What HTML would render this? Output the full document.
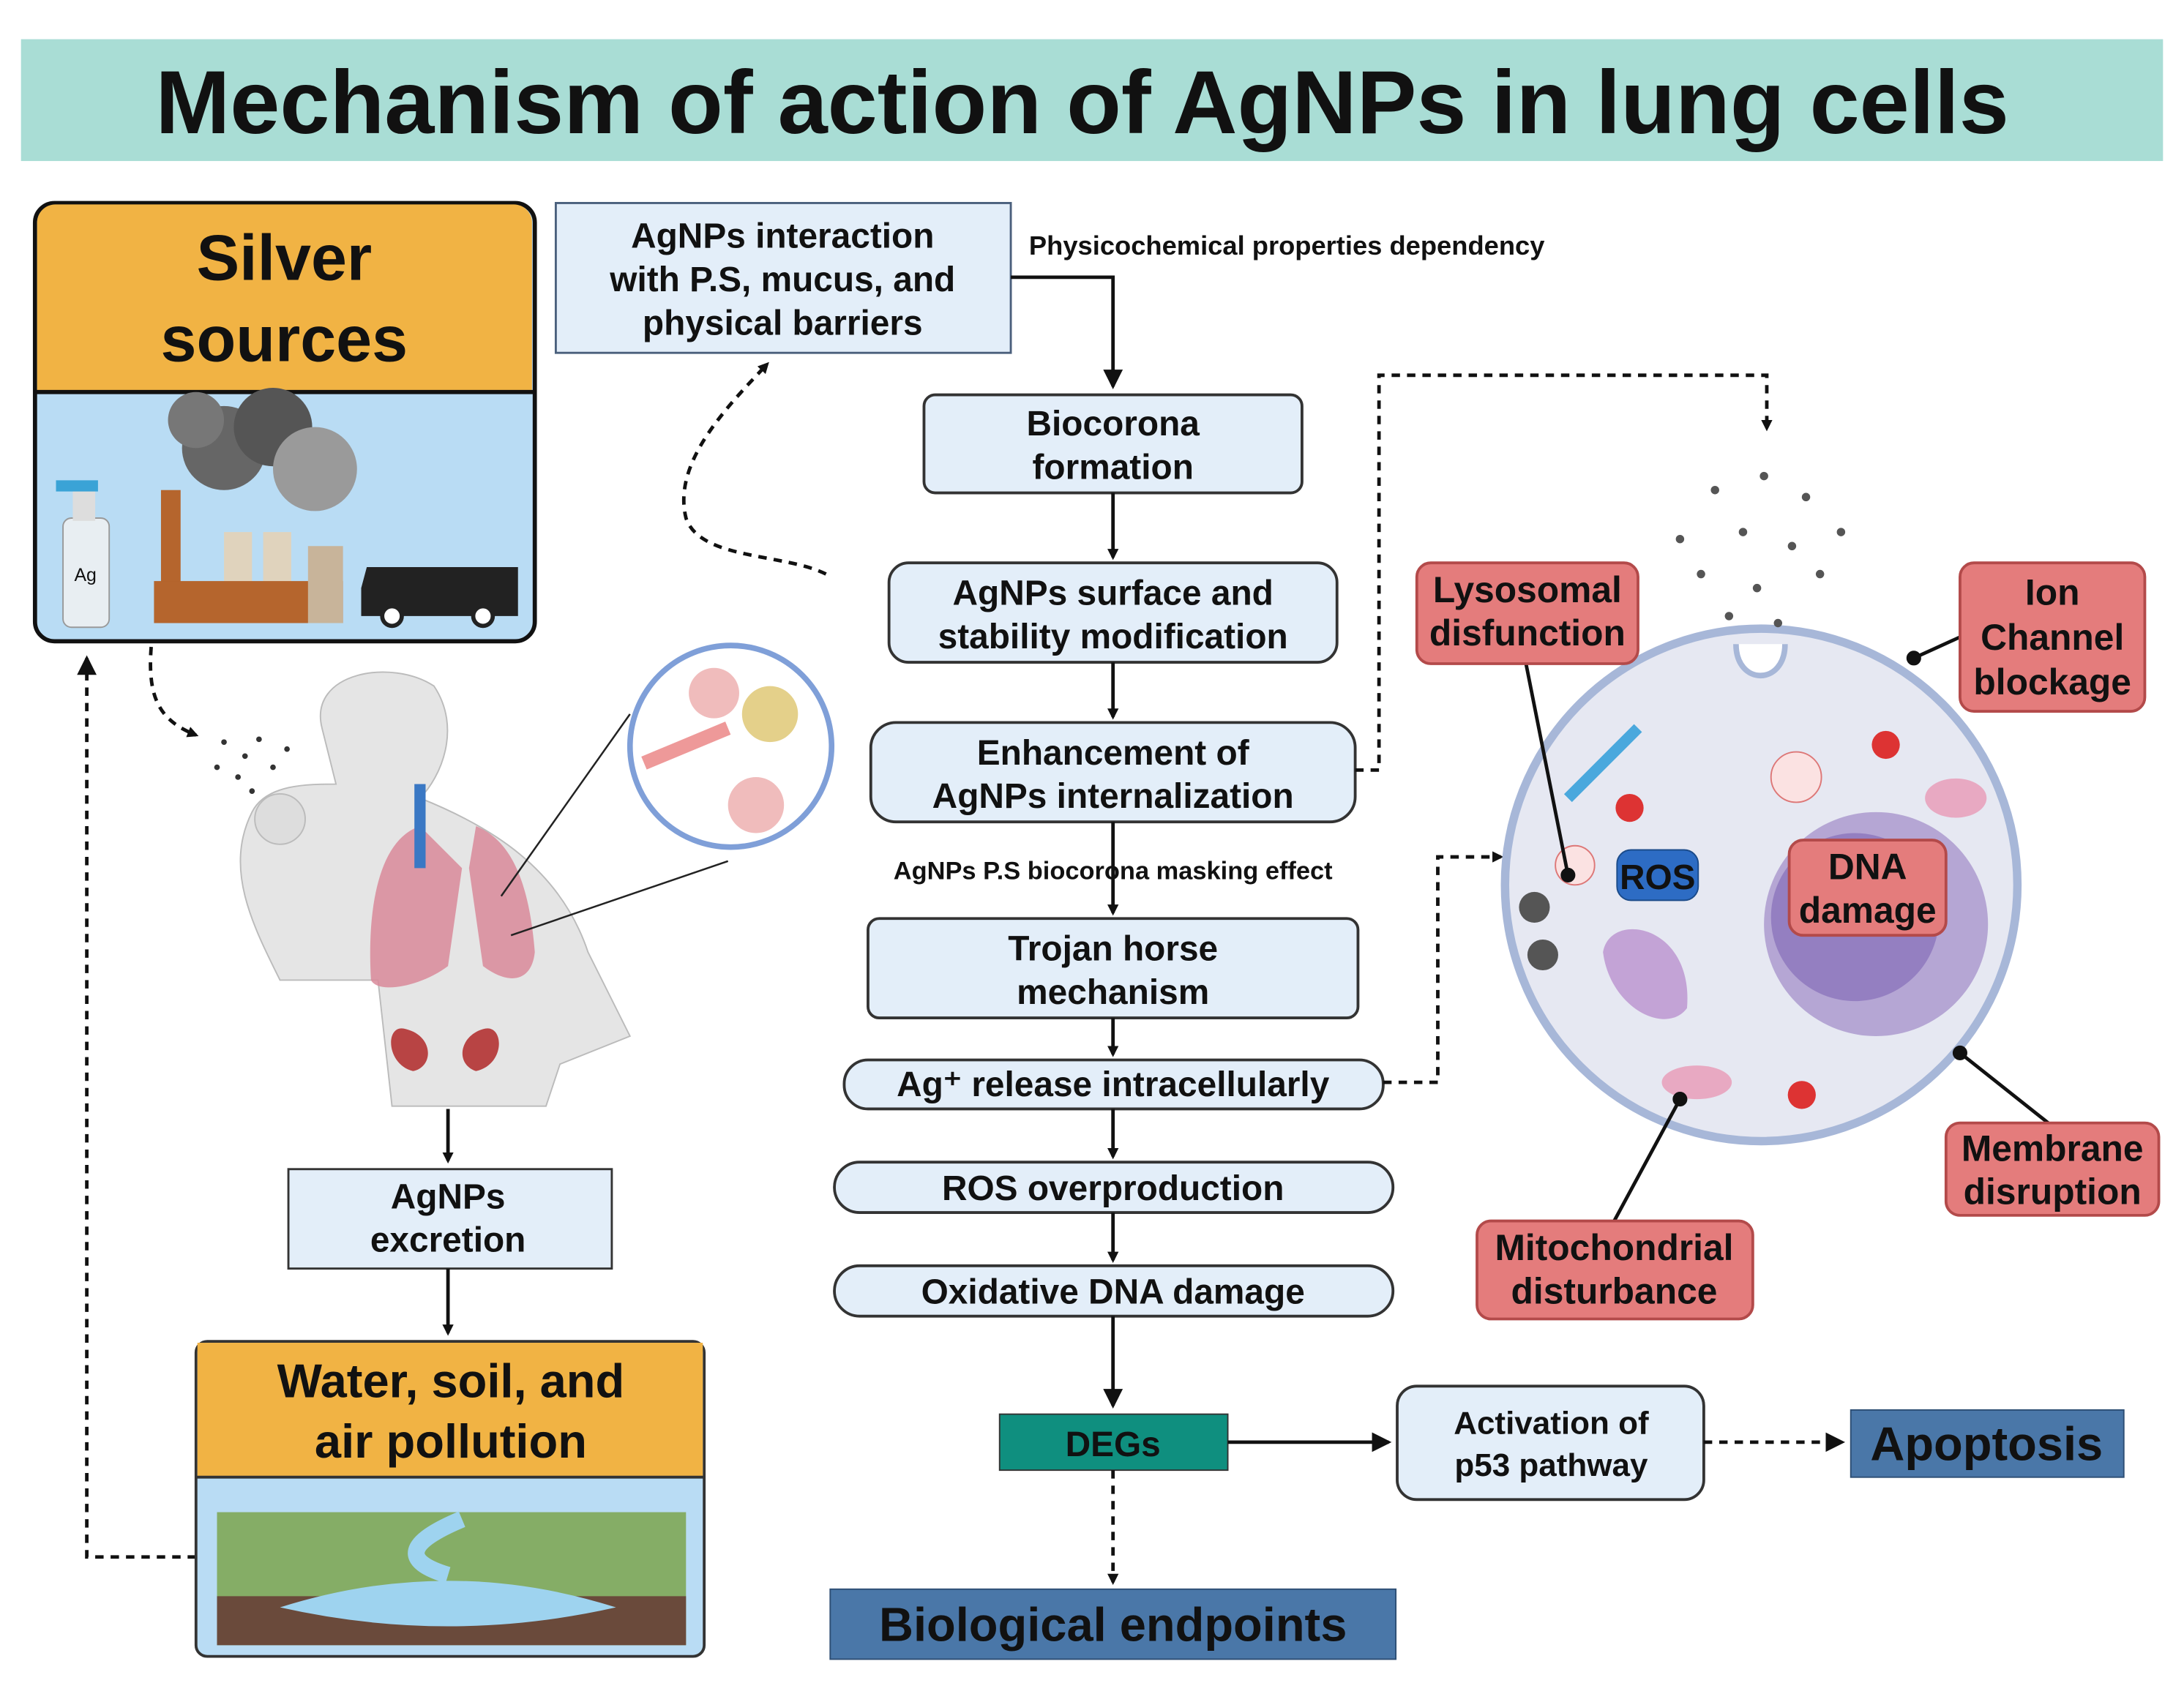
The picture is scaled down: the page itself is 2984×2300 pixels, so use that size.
<!DOCTYPE html>
<html><head><meta charset="utf-8"><style>
html,body{margin:0;padding:0;background:#fff}
svg{display:block}
text{font-family:"Liberation Sans",sans-serif;font-weight:bold;fill:#111}
</style></head><body>
<svg width="2984" height="2300" viewBox="0 0 1560 1202" preserveAspectRatio="none" xmlns="http://www.w3.org/2000/svg">
<defs>
<marker id="ah" markerWidth="8" markerHeight="8" refX="6" refY="4" orient="auto" markerUnits="userSpaceOnUse" viewBox="0 0 8 8"><path d="M0,0 L8,4 L0,8z" fill="#111"/></marker>
<marker id="a2" markerWidth="14" markerHeight="14" refX="12" refY="7" orient="auto" markerUnits="userSpaceOnUse"><path d="M0,0 L14,7 L0,14z" fill="#111"/></marker>
</defs>
<rect width="1560" height="1202" fill="#fff"/>
<rect x="15" y="28" width="1530" height="87" fill="#a9ddd5"/>
<text x="773" y="95" font-size="64" text-anchor="middle">Mechanism of action of AgNPs in lung cells</text>

<rect x="25" y="145" width="357" height="313" rx="14" fill="#b9dcf4" stroke="#111" stroke-width="3"/>
<path d="M26.5,280 V159 a13,13 0 0 1 13,-13 H367 a13,13 0 0 1 13,13 V280z" fill="#f1b344"/>
<line x1="25" y1="280" x2="382" y2="280" stroke="#111" stroke-width="3"/>
<text x="203" y="200" font-size="46" text-anchor="middle">Silver</text>
<text x="203" y="258" font-size="46" text-anchor="middle">sources</text>
<rect x="45" y="370" width="33" height="78" rx="6" fill="#e8eef2" stroke="#999"/>
<rect x="52" y="350" width="16" height="22" fill="#ddd"/>
<path d="M40,343 h30 v8 h-30z" fill="#3aa3d6"/>
<text x="61" y="415" font-size="13" text-anchor="middle" style="font-weight:normal">Ag</text>
<rect x="115" y="350" width="14" height="95" fill="#b5652d"/>
<rect x="160" y="380" width="20" height="65" fill="#e0d3bd"/>
<rect x="188" y="380" width="20" height="65" fill="#e0d3bd"/>
<rect x="110" y="415" width="135" height="30" fill="#b5652d"/>
<rect x="220" y="390" width="25" height="55" fill="#c8b49a"/>
<circle cx="160" cy="320" r="30" fill="#666"/><circle cx="195" cy="305" r="28" fill="#555"/><circle cx="225" cy="335" r="30" fill="#9a9a9a"/><circle cx="140" cy="300" r="20" fill="#777"/>
<path d="M262,405 h108 v35 h-112 v-20z" fill="#222"/>
<circle cx="280" cy="440" r="7" fill="#fff" stroke="#222" stroke-width="3"/><circle cx="345" cy="440" r="7" fill="#fff" stroke="#222" stroke-width="3"/>

<rect x="397" y="145" width="325" height="107" fill="#e3eef9" stroke="#4a5f7c" stroke-width="1.5"/>
<text font-size="25" text-anchor="middle"><tspan x="559" y="177">AgNPs interaction</tspan><tspan x="559" y="208">with P.S, mucus, and</tspan><tspan x="559" y="239">physical barriers</tspan></text>
<text x="735" y="182" font-size="19">Physicochemical properties dependency</text>
<path d="M722,198 H795 V276" fill="none" stroke="#111" stroke-width="2.5" marker-end="url(#a2)"/>

<g font-size="25" text-anchor="middle">
<rect x="660" y="282" width="270" height="70" rx="8" fill="#e3eef9" stroke="#333" stroke-width="2"/>
<text x="795" y="311">Biocorona</text><text x="795" y="342">formation</text>
<rect x="635" y="402" width="320" height="71" rx="14" fill="#e3eef9" stroke="#333" stroke-width="2"/>
<text x="795" y="432">AgNPs surface and</text><text x="795" y="463">stability modification</text>
<rect x="622" y="516" width="346" height="71" rx="18" fill="#e3eef9" stroke="#333" stroke-width="2"/>
<text x="795" y="546">Enhancement of</text><text x="795" y="577">AgNPs internalization</text>
<rect x="620" y="656" width="350" height="71" rx="8" fill="#e3eef9" stroke="#333" stroke-width="2"/>
<text x="795" y="686">Trojan horse</text><text x="795" y="717">mechanism</text>
<rect x="603" y="757" width="385" height="35" rx="17" fill="#e3eef9" stroke="#333" stroke-width="2"/>
<text x="795" y="783">Ag⁺ release intracellularly</text>
<rect x="596" y="830" width="399" height="36" rx="18" fill="#e3eef9" stroke="#333" stroke-width="2"/>
<text x="795" y="857">ROS overproduction</text>
<rect x="596" y="904" width="399" height="36" rx="18" fill="#e3eef9" stroke="#333" stroke-width="2"/>
<text x="795" y="931">Oxidative DNA damage</text>
<rect x="714" y="1010" width="163" height="40" fill="#0f8f7f" stroke="#333"/>
<text x="795" y="1040">DEGs</text>
<rect x="998" y="990" width="219" height="81" rx="14" fill="#e3eef9" stroke="#333" stroke-width="2"/>
<text x="1108" y="1024" font-size="23">Activation of</text><text x="1108" y="1054" font-size="23">p53 pathway</text>
<rect x="206" y="835" width="231" height="71" fill="#e3eef9" stroke="#333" stroke-width="1.5"/>
<text x="320" y="863">AgNPs</text><text x="320" y="894">excretion</text>
</g>
<rect x="1322" y="1007" width="195" height="48" fill="#4a77a8" stroke="#2d4e74"/>
<text x="1419" y="1043" font-size="34" text-anchor="middle">Apoptosis</text>
<rect x="593" y="1135" width="404" height="50" fill="#4a77a8" stroke="#2d4e74"/>
<text x="795" y="1172" font-size="34" text-anchor="middle">Biological endpoints</text>
<text x="795" y="628" font-size="18" text-anchor="middle">AgNPs P.S biocorona masking effect</text>

<g stroke="#111" stroke-width="2.5" fill="none">
<path d="M795,352 V398" marker-end="url(#ah)"/>
<path d="M795,473 V512" marker-end="url(#ah)"/>
<path d="M795,587 V652" marker-end="url(#ah)"/>
<path d="M795,727 V753" marker-end="url(#ah)"/>
<path d="M795,792 V826" marker-end="url(#ah)"/>
<path d="M795,866 V900" marker-end="url(#ah)"/>
<path d="M795,940 V1004" marker-end="url(#a2)"/>
<path d="M877,1030 H992" marker-end="url(#a2)"/>
<path d="M320,792 V829" marker-end="url(#ah)"/>
<path d="M320,906 V952" marker-end="url(#ah)"/>
</g>
<g stroke="#111" stroke-width="2.5" fill="none" stroke-dasharray="6,5">
<path d="M968,550 H985 V268 H1262 V306" marker-end="url(#ah)"/>
<path d="M988,773 H1027 V612 H1072" marker-end="url(#ah)"/>
<path d="M1217,1030 H1316" marker-end="url(#a2)"/>
<path d="M795,1050 V1130" marker-end="url(#ah)"/>
<path d="M140,1112 H62 V470" marker-end="url(#a2)"/>
<path d="M108,462 C105,500 115,515 140,525" marker-end="url(#ah)"/>
<path d="M590,410 C560,395 500,400 490,370 C480,330 520,290 548,260" marker-end="url(#ah)"/>
</g>

<rect x="140" y="958" width="363" height="225" rx="8" fill="#b9dcf4" stroke="#333" stroke-width="2"/>
<rect x="141" y="959" width="361" height="96" fill="#f1b344"/>
<line x1="140" y1="1055" x2="503" y2="1055" stroke="#333" stroke-width="2"/>
<text x="322" y="998" font-size="34" text-anchor="middle">Water, soil, and</text>
<text x="322" y="1041" font-size="34" text-anchor="middle">air pollution</text>
<rect x="155" y="1080" width="335" height="95" fill="#85ad66"/>
<rect x="155" y="1140" width="335" height="35" fill="#6a4a3b"/>
<path d="M200,1148 Q320,1110 440,1148 Q320,1175 200,1148z" fill="#9ed3ef"/>
<path d="M330,1085 Q270,1110 320,1125" stroke="#9ed3ef" stroke-width="12" fill="none"/>

<path d="M230,520 C220,480 280,470 310,490 C330,520 315,555 300,570 C350,590 400,620 420,680 L450,740 L400,760 L390,790 L280,790 L270,700 L200,700 C180,660 160,620 180,580 C190,560 220,560 240,560z" fill="#e5e5e5" stroke="#bbb"/>
<circle cx="200" cy="585" r="18" fill="#ddd" stroke="#bbb"/>
<path d="M300,590 C270,600 262,650 265,700 C270,710 300,705 320,690 L330,620z" fill="#d9899a" opacity=".85"/>
<path d="M335,620 L345,690 C365,705 380,700 382,680 C378,630 365,600 340,590z" fill="#d9899a" opacity=".85"/>
<path d="M290,735 C275,730 275,760 295,765 C310,762 310,740 290,735z M345,735 C360,730 362,760 340,765 C325,760 328,740 345,735z" fill="#b84444"/>
<path d="M300,560 L300,620" stroke="#3a78c4" stroke-width="8"/>
<circle cx="522" cy="533" r="72" fill="#fff" stroke="#7f9fd8" stroke-width="4"/>
<circle cx="510" cy="495" r="18" fill="#f0bcbc"/><circle cx="550" cy="510" r="20" fill="#e4d08a"/><circle cx="540" cy="575" r="20" fill="#f0bcbc"/>
<path d="M460,545 L520,520" stroke="#e99" stroke-width="10"/>
<line x1="358" y1="640" x2="450" y2="510" stroke="#222" stroke-width="1.3"/>
<line x1="365" y1="668" x2="520" y2="615" stroke="#222" stroke-width="1.3"/>
<g fill="#333"><circle cx="160" cy="530" r="2"/><circle cx="175" cy="540" r="2"/><circle cx="185" cy="528" r="2"/><circle cx="170" cy="555" r="2"/><circle cx="195" cy="548" r="2"/><circle cx="205" cy="535" r="2"/><circle cx="180" cy="565" r="2"/><circle cx="155" cy="548" r="2"/></g>

<circle cx="1258" cy="632" r="183" fill="#e6e8f2" stroke="#a7b7d8" stroke-width="6"/>
<circle cx="1340" cy="660" r="80" fill="#a08ac8" opacity=".7"/>
<circle cx="1325" cy="655" r="60" fill="#8c76bc" opacity=".8"/>
<path d="M1145,680 C1150,650 1210,660 1205,720 C1190,740 1150,720 1145,680z" fill="#c3a3d6"/>
<circle cx="1283" cy="555" r="18" fill="#fbe2e2" stroke="#d77"/>
<circle cx="1125" cy="618" r="14" fill="#fbe2e2" stroke="#d77"/>
<circle cx="1164" cy="577" r="10" fill="#d33"/><circle cx="1347" cy="532" r="10" fill="#d33"/><circle cx="1287" cy="782" r="10" fill="#d33"/>
<circle cx="1096" cy="648" r="11" fill="#555"/><circle cx="1102" cy="682" r="11" fill="#555"/>
<path d="M1120,570 L1170,520" stroke="#4aa8dd" stroke-width="8"/>
<ellipse cx="1212" cy="773" rx="25" ry="12" fill="#e8a9c2"/>
<ellipse cx="1397" cy="570" rx="22" ry="14" fill="#e8a9c2"/>
<g fill="#555"><circle cx="1225" cy="350" r="3"/><circle cx="1260" cy="340" r="3"/><circle cx="1290" cy="355" r="3"/><circle cx="1245" cy="380" r="3"/><circle cx="1280" cy="390" r="3"/><circle cx="1215" cy="410" r="3"/><circle cx="1255" cy="420" r="3"/><circle cx="1300" cy="410" r="3"/><circle cx="1235" cy="440" r="3"/><circle cx="1270" cy="445" r="3"/><circle cx="1315" cy="380" r="3"/><circle cx="1200" cy="385" r="3"/></g>
<path d="M1240,460 C1240,490 1275,490 1275,460" fill="#fff" stroke="#a7b7d8" stroke-width="4"/>

<g stroke="#111" stroke-width="2.5">
<line x1="1090" y1="474" x2="1120" y2="625"/><circle cx="1120" cy="625" r="4" fill="#111"/>
<line x1="1400" y1="455" x2="1367" y2="470"/><circle cx="1367" cy="470" r="4" fill="#111"/>
<line x1="1463" y1="802" x2="1400" y2="752"/><circle cx="1400" cy="752" r="4" fill="#111"/>
<line x1="1153" y1="872" x2="1200" y2="785"/><circle cx="1200" cy="785" r="4" fill="#111"/>
</g>
<g fill="#e47c7c" stroke="#b34a4a" stroke-width="2">
<rect x="1012" y="402" width="158" height="72" rx="10"/>
<rect x="1400" y="402" width="132" height="106" rx="10"/>
<rect x="1278" y="600" width="112" height="68" rx="10"/>
<rect x="1390" y="802" width="152" height="66" rx="10"/>
<rect x="1055" y="872" width="197" height="70" rx="10"/>
</g>
<g font-size="26" text-anchor="middle">
<text x="1091" y="430">Lysosomal</text><text x="1091" y="461">disfunction</text>
<text x="1466" y="432">Ion</text><text x="1466" y="464">Channel</text><text x="1466" y="496">blockage</text>
<text x="1334" y="628">DNA</text><text x="1334" y="659">damage</text>
<text x="1466" y="829">Membrane</text><text x="1466" y="860">disruption</text>
<text x="1153" y="900">Mitochondrial</text><text x="1153" y="931">disturbance</text>
</g>
<rect x="1155" y="607" width="58" height="36" rx="10" fill="#2d6cc4" stroke="#1b4b8a"/>
<text x="1184" y="635" font-size="25" text-anchor="middle">ROS</text>
</svg>
</body></html>
